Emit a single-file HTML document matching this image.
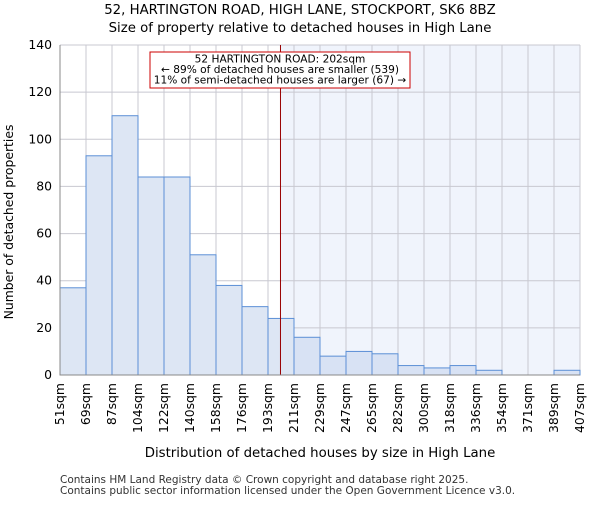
<!DOCTYPE html>
<html><head><meta charset="utf-8"><style>
body{margin:0;background:#fff}
svg{font-family:"DejaVu Sans","Liberation Sans",sans-serif}
</style></head><body>
<svg id="c" width="600" height="500">
<text x="300" y="14" text-anchor="middle" font-size="13.3">52, HARTINGTON ROAD, HIGH LANE, STOCKPORT, SK6 8BZ</text>
<text x="300" y="32" text-anchor="middle" font-size="13.3">Size of property relative to detached houses in High Lane</text>
<g id="grid"></g><g id="bars"></g><g id="axes"></g>
<text x="320" y="457" text-anchor="middle" font-size="13.3">Distribution of detached houses by size in High Lane</text>
<text transform="translate(13,222) rotate(-90)" text-anchor="middle" font-size="12.4">Number of detached properties</text>
<text x="60" y="483" font-size="10.5" fill="#333">Contains HM Land Registry data © Crown copyright and database right 2025.</text>
<text x="60" y="494" font-size="10.5" fill="#333">Contains public sector information licensed under the Open Government Licence v3.0.</text>
</svg>
<script>
const categories=["51sqm","69sqm","87sqm","104sqm","122sqm","140sqm","158sqm","176sqm","193sqm","211sqm","229sqm","247sqm","265sqm","282sqm","300sqm","318sqm","336sqm","354sqm","371sqm","389sqm","407sqm"];
const counts=[37,93,110,84,84,51,38,29,24,16,8,10,9,4,3,4,2,0,0,2];
const yTicks=[0,20,40,60,80,100,120,140];
const markerIndex=8.48;
const NS="http://www.w3.org/2000/svg";
const L=60,R=580,T=45,B=375,yMax=140;
const bw=(R-L)/counts.length;
const xs=i=>L+i*bw, ys=v=>B-(v/yMax)*(B-T);
function mk(t,a,p){const e=document.createElementNS(NS,t);for(const k in a)e.setAttribute(k,a[k]);p.appendChild(e);return e;}
const grid=document.getElementById('grid'),bars=document.getElementById('bars'),axes=document.getElementById('axes');
const mx=xs(markerIndex);
const sh=mk('rect',{x:mx,y:T,width:R-mx,height:B-T,fill:'#f0f4fc'},grid);


yTicks.forEach(v=>{
 const l=mk('line',{x1:L,x2:R,y1:ys(v),y2:ys(v),stroke:'#c8c8d0','stroke-width':1},grid);
 
 
 const t=mk('text',{x:L-8,y:ys(v)+4,'text-anchor':'end','font-size':12.4},axes);
 t.textContent=v;
 
 
});
categories.forEach((c,i)=>{
 const l=mk('line',{x1:xs(i),x2:xs(i),y1:T,y2:B,stroke:'#c8c8d0','stroke-width':1},grid);
 
 
 const t=mk('text',{transform:`translate(${xs(i)+4},${B+8}) rotate(-90)`,'text-anchor':'end','font-size':12.4},axes);
 t.textContent=c;
 
 
});
counts.forEach((v,i)=>{
 if(v<=0)return;
 const r=mk('rect',{x:xs(i),y:ys(v),width:bw,height:B-ys(v),fill:xs(i)>=mx-1?'#d8e2f4':'#dde6f4',stroke:'#5b8fd6','stroke-width':1},bars);
 
 
});
const ml=mk('line',{x1:mx,x2:mx,y1:T,y2:B,stroke:'#990000','stroke-width':1},bars);


const ax=mk('path',{d:`M${L},${T}V${B}H${R}`,stroke:'#888',fill:'none'},axes);


const g=mk('g',{},axes);


mk('rect',{x:150,y:52,width:260,height:36,fill:'#fff',stroke:'#cc0000','stroke-width':1},g);
["52 HARTINGTON ROAD: 202sqm","← 89% of detached houses are smaller (539)","11% of semi-detached houses are larger (67) →"].forEach((s,i)=>{
 const t=mk('text',{x:280,y:62.5+i*10.5,'text-anchor':'middle','font-size':10.6},g);
 t.textContent=s;
 
 
});
</script>
</body></html>
